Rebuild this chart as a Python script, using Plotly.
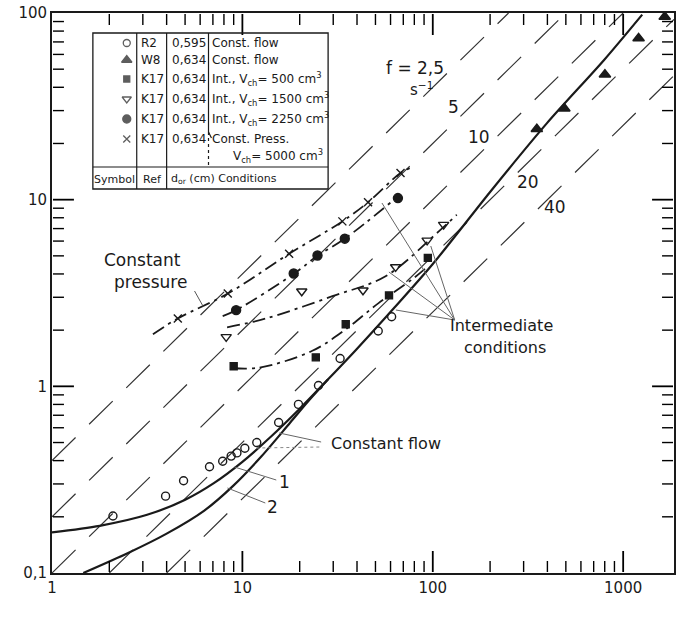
import math
import plotly.graph_objects as go

# ---------------- data ----------------
# R2, const. flow (open circles)
r2_Q = [2.09, 3.95, 4.91, 6.72, 7.88, 8.73, 9.36, 10.3, 11.9, 15.5, 19.7, 25.1, 32.6, 51.7, 60.8]
r2_V = [0.202, 0.258, 0.312, 0.371, 0.397, 0.423, 0.44, 0.466, 0.50, 0.64, 0.80, 1.01, 1.41, 1.98, 2.36]
# W8, const. flow (filled triangles)
w8_Q = [352, 491, 802, 1205, 1653]
w8_V = [23.9, 30.8, 46.8, 73.2, 95.5]
# K17, Vch = 500 (filled squares)
k500_Q = [9.0, 24.3, 34.9, 58.9, 94.2]
k500_V = [1.28, 1.43, 2.15, 3.07, 4.88]
# K17, Vch = 1500 (open down triangles)
k1500_Q = [8.22, 20.5, 43.0, 63.8, 93.4, 114]
k1500_V = [1.84, 3.23, 3.27, 4.36, 6.05, 7.35]
# K17, Vch = 2250 (filled circles)
k2250_Q = [9.27, 18.6, 24.8, 34.5, 65.6]
k2250_V = [2.56, 4.02, 5.02, 6.18, 10.2]
# K17, const. press. Vch = 5000 (crosses)
k5000_Q = [4.58, 8.38, 17.6, 33.5, 45.7, 67.7]
k5000_V = [2.31, 3.14, 5.13, 7.65, 9.68, 13.9]

# hand-drawn trend curves through the K17 data
c500_Q = [9.0, 12.3, 23.3, 34.9, 52.1, 77.6, 92]
c500_V = [1.25, 1.26, 1.55, 2.02, 2.80, 3.73, 4.3]
c1500_Q = [8.31, 13.3, 29.7, 56.5, 107.5, 133.6]
c1500_V = [2.07, 2.31, 3.04, 3.89, 6.76, 8.3]
c2250_Q = [7.88, 9.27, 18.6, 24.8, 34.5, 61.2]
c2250_V = [2.38, 2.56, 4.0, 5.0, 6.18, 9.8]
c5000_Q = [3.39, 4.58, 8.38, 17.6, 33.5, 45.7, 67.7, 76.4]
c5000_V = [1.90, 2.31, 3.14, 5.13, 7.65, 9.68, 13.9, 14.8]

# theory curve 1 (whole length) and curve 2 (joins curve 1 at Q ~ 28)
curve1_Q = [1, 1.78, 3.16, 5.01, 7.08, 10, 14.1, 20, 28.2, 39.8, 63.1, 100, 200, 398, 794, 1259]
curve1_V = [0.165, 0.179, 0.205, 0.247, 0.303, 0.394, 0.537, 0.759, 1.09, 1.58, 2.65, 4.52, 11.0, 25.7, 56.0, 98.0]
curve2_Q = [1.46, 2.51, 3.98, 6.31, 8.91, 12.6, 17.8, 22.4, 28.2]
curve2_V = [0.1, 0.128, 0.162, 0.216, 0.292, 0.422, 0.638, 0.841, 1.09]

# constant frequency lines V = Q / f
f_values = [2.5, 5, 10, 20, 40]

x_ticks = [1, 10, 100, 1000]
x_ticktext = ["1", "10", "100", "1000"]
y_ticks = [0.1, 1, 10, 100]
y_ticktext = ["0,1", "1", "10", "100"]

legend_symbols = ["circle-open", "triangle-up", "square", "triangle-down-open", "circle", "x-thin-open"]
legend_refs = ["R2", "W8", "K17", "K17", "K17", "K17"]
legend_dor = ["0,595", "0,634", "0,634", "0,634", "0,634", "0,634"]
legend_cond = ["Const. flow", "Const. flow",
               "Int., V<sub>ch</sub>= 500 cm<sup>3</sup>",
               "Int., V<sub>ch</sub>= 1500 cm<sup>3</sup>",
               "Int., V<sub>ch</sub>= 2250 cm<sup>3</sup>",
               "Const. Press."]

# ---------------- layout constants (pixels) ----------------
W, H = 676, 628
L, R, T, B = 52, 0, 13, 55
X_RANGE = [0, 3.267]
Y_RANGE = [-1, 2]
FONT = "DejaVu Sans"
INK = "#1a1a1a"

fig = go.Figure()

xmin, xmax = 10 ** X_RANGE[0], 10 ** X_RANGE[1]
ymin, ymax = 10 ** Y_RANGE[0], 10 ** Y_RANGE[1]

# reference dashed lines
for f in f_values:
    q_lo = max(xmin, f * ymin)
    q_hi = min(xmax, f * ymax)
    fig.add_trace(go.Scatter(x=[q_lo, q_hi], y=[q_lo / f, q_hi / f], mode="lines",
                             line=dict(color="#333333", width=1.2, dash="33px,19px"),
                             hoverinfo="skip"))

# theory curves
fig.add_trace(go.Scatter(x=curve1_Q, y=curve1_V, mode="lines",
                         line=dict(color=INK, width=2.2, shape="spline", smoothing=0.8)))
fig.add_trace(go.Scatter(x=curve2_Q, y=curve2_V, mode="lines",
                         line=dict(color=INK, width=2.2, shape="spline", smoothing=0.8)))

# intermediate curves
dd = "13px,5px,3px,5px"
for cq, cv in [(c500_Q, c500_V), (c1500_Q, c1500_V), (c2250_Q, c2250_V), (c5000_Q, c5000_V)]:
    fig.add_trace(go.Scatter(x=cq, y=cv, mode="lines",
                             line=dict(color=INK, width=1.8, dash=dd, shape="spline")))

# data markers
series = [
    (r2_Q, r2_V, "circle-open", 8),
    (w8_Q, w8_V, "triangle-up", 10),
    (k500_Q, k500_V, "square", 7),
    (k1500_Q, k1500_V, "triangle-down-open", 9),
    (k2250_Q, k2250_V, "circle", 9),
    (k5000_Q, k5000_V, "x-thin-open", 8),
]
for q, v, sym, sz in series:
    fig.add_trace(go.Scatter(x=q, y=v, mode="markers",
                             marker=dict(symbol=sym, size=sz, color=INK,
                                         line=dict(color=INK, width=1.4))))

# ---------------- legend table (pixel overlay axes) ----------------
leg_rows_y = [43, 60, 79, 99, 119, 139]
leg_sizes = [7, 9, 6, 8, 8, 7]
fig.add_trace(go.Scatter(x=[127] * 6, y=leg_rows_y, mode="markers", xaxis="x2", yaxis="y2",
                         marker=dict(symbol=legend_symbols, size=leg_sizes, color=INK,
                                     line=dict(color=INK, width=1.3))))

shapes = []
def pline(x0, y0, x1, y1, w=1.2, color=INK, dash=None):
    d = dict(type="line", xref="x2", yref="y2", x0=x0, y0=y0, x1=x1, y1=y1,
             line=dict(color=color, width=w))
    if dash:
        d["line"]["dash"] = dash
    shapes.append(d)

# ---- ticks (inside, all four sides) as shapes in the pixel overlay ----
PXX = (W - L - R) / (X_RANGE[1] - X_RANGE[0])
PXY = (H - B - T) / (Y_RANGE[1] - Y_RANGE[0])
for d in range(-1, 5):
    for m in range(1, 10):
        val = m * 10 ** d
        length = 22 if m == 1 else 12
        width = 1.8 if m == 1 else 1.4
        lx = math.log10(val)
        if X_RANGE[0] < lx < X_RANGE[1]:
            xp = L + PXX * (lx - X_RANGE[0])
            pline(xp, H - B - 1, xp, H - B - length, w=width, color="#000000")
            pline(xp, T + 1, xp, T + length, w=width, color="#000000")
        if Y_RANGE[0] < lx < Y_RANGE[1]:
            yp = (H - B) - PXY * (lx - Y_RANGE[0])
            pline(L + 1, yp, L + length, yp, w=width, color="#000000")
            pline(W - R - 1, yp, W - R - length, yp, w=width, color="#000000")

shapes.append(dict(type="rect", xref="x2", yref="y2", x0=93, y0=33, x1=329, y1=189,
                   line=dict(color=INK, width=1.3)))
pline(93, 167, 329, 167)
pline(137, 33, 137, 189)
pline(167, 33, 167, 189)
pline(209, 33, 209, 132)
pline(209, 132, 209, 167, dash="dot")
pline(209, 132, 212, 138)

annotations = []
def text(x, y, s, size=12, xanchor="left", angle=0):
    annotations.append(dict(x=x, y=y, xref="x2", yref="y2", text=s, showarrow=False,
                            xanchor=xanchor, yanchor="middle", textangle=angle,
                            font=dict(family=FONT, size=size, color=INK)))

for yy, rf, do, cd in zip(leg_rows_y, legend_refs, legend_dor, legend_cond):
    text(139, yy, rf)
    text(170, yy, do)
    text(211, yy, cd)
text(326, 156, "V<sub>ch</sub>= 5000 cm<sup>3</sup>", xanchor="right")
text(115, 179, "Symbol", size=11, xanchor="center")
text(141, 179, "Ref", size=11)
text(169, 179, "d<sub>or</sub> (cm) Conditions", size=11)

# ---------------- chart annotations ----------------
text(143, 260, "Constant", size=17, xanchor="center")
text(151, 282, "pressure", size=17, xanchor="center")
pline(195, 291, 204, 307, w=1, color="#555555")

text(503, 325, "Intermediate", size=16, xanchor="center")
text(506, 347, "conditions", size=16, xanchor="center")
for (xe, ye) in [(383, 203), (390, 272), (397, 310), (432, 246)]:
    pline(456, 320, xe, ye, w=1, color="#666666")

text(330, 443, "Constant flow", size=16)
pline(280, 433, 322, 442, w=1, color="#666666")
pline(257, 448, 322, 447, w=1, color="#888888", dash="dot")

text(285, 482, "1", size=17, xanchor="center")
pline(235, 467, 277, 480, w=1, color="#666666")
text(273, 507, "2", size=17, xanchor="center")
pline(228, 488, 266, 503, w=1, color="#666666")

text(416, 68, "f = 2,5", size=17, xanchor="center")
text(423, 89, "s<sup>−1</sup>", size=15, xanchor="center")
text(455, 107, "5", size=17, xanchor="center")
text(480, 137, "10", size=17, xanchor="center")
text(530, 182, "20", size=17, xanchor="center")
text(557, 207, "40", size=17, xanchor="center")

# axis titles
text(363, 613, "Air flow rate, Q (cm<sup>3</sup>/s)", size=15, xanchor="center")
text(24, 380, "Bubble volume, V (cm<sup>3</sup>)", size=15, xanchor="center", angle=-90)

axis_common = dict(type="log", showgrid=False, zeroline=False, showline=True, linecolor=INK,
                   linewidth=1.8, ticks="", mirror=True,
                   tickfont=dict(family=FONT, size=15, color=INK))

fig.update_layout(
    width=W, height=H, margin=dict(l=L, r=R, t=T, b=B),
    paper_bgcolor="white", plot_bgcolor="white", showlegend=False,
    xaxis=dict(range=X_RANGE, tickvals=x_ticks, ticktext=x_ticktext, **axis_common),
    yaxis=dict(range=Y_RANGE, tickvals=y_ticks, ticktext=y_ticktext, **axis_common),
    xaxis2=dict(overlaying="x", range=[L, W - R], visible=False, anchor="y2"),
    yaxis2=dict(overlaying="y", range=[H - B, T], visible=False, anchor="x2"),
    shapes=shapes, annotations=annotations,
)

fig.write_html("out.html")
